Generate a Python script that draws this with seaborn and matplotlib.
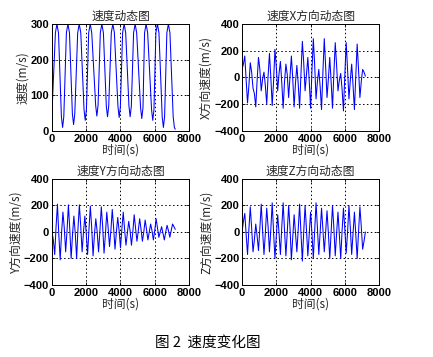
import numpy as np
import pandas as pd
import matplotlib
matplotlib.use("Agg")
import matplotlib.pyplot as plt
import seaborn as sns

# ---------------- data ----------------
# speed: extremes, plus shoulder points around peaks and troughs
t_speed = [0, 291, 621, 932, 1262, 1592, 1942, 2233, 2621, 2913, 3243, 3554,
           3923, 4214, 4564, 4855, 5243, 5496, 5884, 6156, 6505, 6797, 7146, 7200]
v_speed = [50, 300, 10, 300, 18, 300, 30, 300, 42, 300, 40, 300,
           38, 300, 40, 300, 35, 300, 30, 300, 10, 300, 10, 5]
t_speed_pk_sh = [201, 381, 842, 1022, 1502, 1682, 2143, 2323, 2823, 3003, 3464,
                 3644, 4124, 4304, 4765, 4945, 5406, 5586, 6066, 6246, 6707, 6887]
v_speed_pk_sh = [275] * 22
t_speed_tr_sh = [551, 691, 1192, 1332, 1872, 2012, 2551, 2691, 3173, 3313, 3853,
                 3993, 4494, 4634, 5173, 5313, 5814, 5954, 6435, 6575, 7076]
v_speed_tr_sh = [40, 40, 48, 48, 60, 60, 72, 72, 70, 70, 68,
                 68, 70, 70, 65, 65, 60, 60, 40, 40, 40]

# direction components: extremes and the kinks between them
t_ext = [0, 160, 320, 480, 640, 800, 960, 1120, 1280, 1440, 1600, 1760,
         1920, 2080, 2240, 2400, 2560, 2720, 2880, 3040, 3200, 3360, 3520,
         3680, 3840, 4000, 4160, 4320, 4480, 4640, 4800, 4960, 5120, 5280,
         5440, 5600, 5760, 5920, 6080, 6240, 6400, 6560, 6720, 6880, 7040, 7200]
t_mid = [80, 240, 400, 560, 720, 880, 1040, 1200, 1360, 1520, 1680, 1840,
         2000, 2160, 2320, 2480, 2640, 2800, 2960, 3120, 3280, 3440, 3600,
         3760, 3920, 4080, 4240, 4400, 4560, 4720, 4880, 5040, 5200, 5360,
         5520, 5680, 5840, 6000, 6160, 6320, 6480, 6640, 6800, 6960, 7120]

x_ext = [60, 160, -190, 110, -80, -220, 150, -100, 40, -200, 180, -210,
         210, -100, 120, -230, 100, -150, 160, -220, 90, -230, 270,
         -100, 150, -230, 290, -160, 60, -240, 290, -150, 150, -230,
         260, -100, 30, -250, 260, -160, 100, -240, 250, -150, 60, 10]
x_mid = [100, -20, -60, 40, -120, -20, 60, -10, -60, 10, 0, -30,
         80, 30, -40, -30, 20, 10, -10, -40, -50, 30, 110,
         20, -20, 50, 90, -30, -70, 40, 80, -10, -30, 30,
         90, -20, -90, 20, 60, -20, -60, 10, 60, -30, 40]

y_ext = [0, -170, 210, -210, 150, -150, 205, -200, 120, -200, 205, -150,
         120, -170, 195, -180, 100, -150, 190, -160, 150, -110, 170,
         -130, 110, -120, 150, -100, 80, -100, 130, -70, 100, -70,
         90, -60, 60, -60, 100, -40, 40, -60, 50, -40, 60, 20]
y_mid = [-60, 40, -20, -10, 30, 10, 20, -20, -10, 30, 40, 0,
         -10, 20, 30, -20, 0, 10, 40, -20, 30, 10, 30,
         0, 10, 20, 20, -10, 10, 0, 30, 10, 20, 0,
         20, 0, 10, 10, 30, 0, -10, 0, 10, 10, 40]

z_ext = [0, 140, -170, 190, -150, 60, -140, 210, -170, 180, -150, 220,
         -200, 130, -170, 220, -180, 200, -210, 130, -150, 210, -220,
         200, -180, 150, -200, 220, -170, 180, -150, 160, -200, 200,
         -180, 150, -200, 180, -160, 200, -170, 150, -200, 190, -130, 0]
z_mid = [80, -20, 20, 30, -60, -30, 30, 10, -10, 40, 20, 0,
         -30, -10, 40, 10, 0, 30, -40, -10, 20, -10, 0,
         20, -20, -10, 10, 30, 0, 20, 0, -10, 0, 30,
         -10, -20, 10, 20, 0, 30, -10, -20, 0, 40, -70]

titles = ["速度动态图", "速度X方向动态图", "速度Y方向动态图", "速度Z方向动态图"]
ylabels = ["速度(m/s)", "X方向速度(m/s)", "Y方向速度(m/s)", "Z方向速度(m/s)"]
xlabel = "时间(s)"
caption = "图 2  速度变化图"
xticks = [0, 2000, 4000, 6000, 8000]
yticks_speed = [0, 100, 200, 300]
yticks_dir = [-400, -200, 0, 200, 400]


def frame(ts, vs):
    t_all, v_all = [], []
    for tt, vv in zip(ts, vs):
        t_all += list(tt)
        v_all += list(vv)
    return pd.DataFrame({"t": t_all, "v": v_all}).sort_values("t")


series = [
    frame([t_speed, t_speed_pk_sh, t_speed_tr_sh],
          [v_speed, v_speed_pk_sh, v_speed_tr_sh]),
    frame([t_ext, t_mid], [x_ext, x_mid]),
    frame([t_ext, t_mid], [y_ext, y_mid]),
    frame([t_ext, t_mid], [z_ext, z_mid]),
]

# ---------------- style ----------------
sns.set_style("ticks")
plt.rcParams['font.family'] = ['Noto Sans CJK SC', 'DejaVu Sans']

fig = plt.figure(figsize=(4.33, 3.57), dpi=100)
positions = [
    [0.120, 0.633, 0.3165, 0.300],
    [0.559, 0.633, 0.3165, 0.300],
    [0.120, 0.2017, 0.3165, 0.297],
    [0.559, 0.2017, 0.3165, 0.297],
]

for i, (pos, df) in enumerate(zip(positions, series)):
    ax = fig.add_axes(pos)
    sns.lineplot(data=df, x="t", y="v", ax=ax, color="#0000ff", lw=0.75,
                 sort=False, estimator=None)
    ax.set_xlim(0, 8000)
    ax.set_xticks(xticks)
    if i == 0:
        ax.set_ylim(0, 300)
        ax.set_yticks(yticks_speed)
    else:
        ax.set_ylim(-400, 400)
        ax.set_yticks(yticks_dir)
    ax.grid(True, color="black", linestyle=(0, (1.5, 2.5)), linewidth=0.7)
    for s in ax.spines.values():
        s.set_color("black")
        s.set_linewidth(0.7)
    ax.tick_params(direction="in", length=2.5, width=0.6, top=True, right=True,
                   labelsize=8, pad=2, colors="black")
    for lab in ax.get_xticklabels() + ax.get_yticklabels():
        lab.set_fontfamily(['Liberation Sans', 'DejaVu Sans'])
        lab.set_fontweight('bold')
    ax.set_title(titles[i], fontsize=8.5, pad=3)
    ax.set_xlabel(xlabel, fontsize=8.5, labelpad=0)
    ax.set_ylabel(ylabels[i], fontsize=8.5, labelpad=1)

fig.text(0.48, 0.039, caption, ha="center", va="center", fontsize=10.5,
         color="black")

fig.savefig("out.png", dpi=100, facecolor="white")
